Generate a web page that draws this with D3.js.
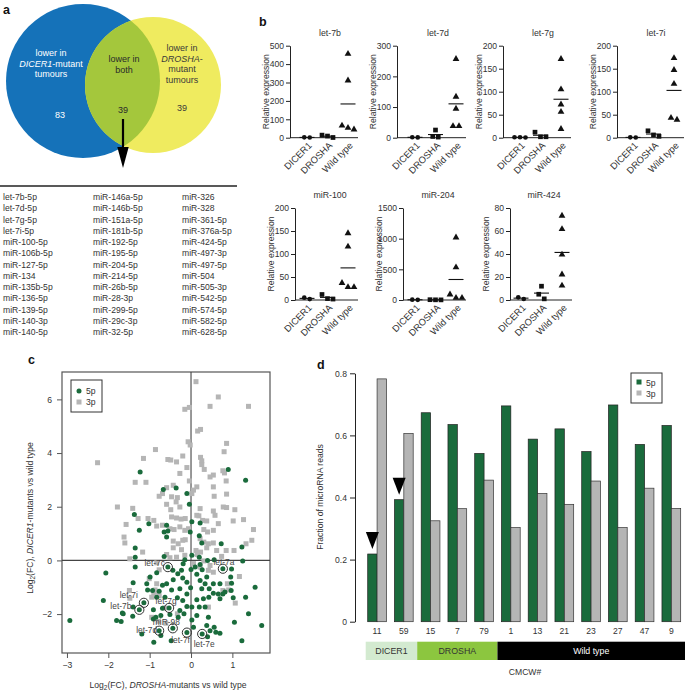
<!DOCTYPE html>
<html><head><meta charset="utf-8">
<script src="https://cdn.jsdelivr.net/npm/d3@7"></script>
<style>
html,body{margin:0;padding:0;background:#fff;}
svg{display:block;}
text{font-family:"Liberation Sans",Arial,Helvetica,sans-serif;}
</style></head>
<body>
<svg id="fig" width="685" height="692"></svg>
<script>
// ================= DATA =================
// Panel a
const vennCounts = [83, 39, 39];            // DICER1 only, both, DROSHA only
const vennText = [
  ["lower in", "*DICER1*-mutant", "tumours"],
  ["lower in", "both"],
  ["lower in", "*DROSHA*-", "mutant", "tumours"]
];
const sharedMiRNAs = [
  "let-7b-5p","let-7d-5p","let-7g-5p","let-7i-5p","miR-100-5p","miR-106b-5p","miR-127-5p","miR-134","miR-135b-5p","miR-136-5p","miR-139-5p","miR-140-3p","miR-140-5p",
  "miR-146a-5p","miR-146b-5p","miR-151a-5p","miR-181b-5p","miR-192-5p","miR-195-5p","miR-204-5p","miR-214-5p","miR-26b-5p","miR-28-3p","miR-299-5p","miR-29c-3p","miR-32-5p",
  "miR-326","miR-328","miR-361-5p","miR-376a-5p","miR-424-5p","miR-497-3p","miR-497-5p","miR-504","miR-505-3p","miR-542-5p","miR-574-5p","miR-582-5p","miR-628-5p"
];

// Panel b
const bTitles = ["let-7b","let-7d","let-7g","let-7i","miR-100","miR-204","miR-424"];
const bGroups = ["DICER1","DROSHA","Wild type"];
const bTicks = [[0,100,200,300,400,500],[0,100,200,300],[0,50,100,150,200],[0,50,100,150,200],
                [0,50,100,150,200],[0,500,1000,1500],[0,20,40,60,80]];
const bDicer  = [[1,2],[1,1.5],[1,0.5,1],[0.5,0.8],[2,5],[3,6],[0.9,2.3]];
const bDrosha = [[14,1,9],[25,2,4],[12,2,2],[15,3,6],[12,2,3],[2,3,5],[12,5,1]];
const bWild   = [[453,308,63,42,51],[255,132,93,36,36],[170,104,71,55,18],[172,146,116,38,42],
                 [144,115,36,27,27],[1012,525,81,27,27],[72.8,61.2,39,21.7,12.1]];

// Panel c  (log2 FC DROSHA-mut vs WT, log2 FC DICER1-mut vs WT)
const c3p = [[-2.26,3.64],[-0.86,4.13],[-1.15,3.80],[-1.35,2.91],[-1.09,2.91],[-1.78,1.99],[-1.41,1.94],[-1.57,1.34],[-1.62,0.87],[-1.60,0.65],[-1.48,0.06],[-1.17,0.31],[-1.28,1.56],[-1.04,1.56],[-0.90,1.49],[-0.83,1.28],[-0.69,1.31],[-0.77,2.39],[-0.69,2.49],[-0.59,2.71],[-0.56,3.76],[-0.49,3.74],[-0.35,3.67],[-0.20,3.89],[-0.27,3.24],[-0.10,3.46],[-0.04,2.96],[-0.43,2.80],[-0.47,2.37],[-0.33,2.34],[-0.36,2.18],[-0.59,2.09],[-0.49,1.89],[-0.27,1.99],[-0.47,1.62],[-0.35,1.58],[-0.24,1.54],[-0.14,1.56],[-0.51,1.18],[-0.41,1.15],[-0.27,1.25],[-0.15,1.12],[-0.06,1.18],[-0.20,0.75],[-0.14,0.77],[-0.43,0.72],[-0.31,0.62],[-0.43,0.47],[-0.23,0.40],[-0.59,0.22],[-0.51,0.10],[-0.35,0.12],[-0.83,-0.09],[-0.77,-0.35],[-1.01,-0.68],[-0.83,-0.87],[-0.87,-1.10],[-0.83,-1.17],[-0.95,-1.37],[-0.90,-1.25],[-1.49,-1.12],[-1.48,-1.41],[-0.77,-1.32],[-0.63,-1.77],[-0.33,-1.99],[-0.95,-2.12],[-0.79,-2.27],[-0.61,-2.34],
  [0.12,6.66],[0.66,6.09],[0.46,5.74],[1.39,5.74],[-0.15,5.63],[-0.04,5.70],[0.16,4.82],[0.23,4.88],[-0.07,4.42],[-0.02,4.30],
  [0.02,2.49],[0.06,2.62],[0.14,2.74],[0.22,1.93],[0.19,1.66],[0.14,1.68],[0.28,1.49],[0.38,1.47],[0.23,3.84],[0.26,3.71],[0.26,3.57],[0.32,3.39],[0.46,3.11],[0.54,3.18],[0.56,2.39],[0.77,3.34],[0.85,2.96],[0.81,3.26],[0.86,2.47],[0.80,4.05],[0.86,4.36],[0.54,2.74],[0.78,1.99],[0.86,1.97],[0.54,1.84],[1.06,1.89],[1.02,1.47],[1.27,1.52],[1.51,1.15],[1.47,0.75],[1.33,0.62],[0.58,1.68],[0.66,1.37],[0.31,1.15],[0.54,1.12],[0.40,1.06],[0.22,0.81],[0.31,0.68],[0.42,0.62],[0.54,0.65],[0.38,0.47],[0.12,0.37],[0.23,0.31],[0.15,0.22],[0.62,0.37],[0.74,0.15],[0.85,0.37],[1.04,0.37],[0.31,-0.02],[0.46,-0.19],[0.22,-0.25],[0.42,-0.37],[0.54,-0.44],[1.17,-0.60],[0.88,-0.87],[0.77,-1.12],[0.91,-1.10],[1.07,-1.59],[0.42,-1.74],[0.06,-0.12],[-0.15,0.19]];
const c5p = [[-2.93,-2.24],[-2.06,-0.47],[-2.12,-1.49],[-1.80,-2.24],[-1.69,-2.28],[-1.66,-1.96],[-1.40,-1.74],[-1.40,-0.83],[-1.35,-0.25],[-1.35,0.46],[-1.35,0.12],[-1.23,3.29],[-1.37,1.71],[-1.25,1.12],[-1.02,1.37],[-0.67,2.64],[-0.36,2.70],[-0.65,1.06],[-0.59,0.87],[-0.56,1.10],[-0.59,1.31],[-0.65,0.15],[-0.10,2.49],[-0.04,2.09],[0.02,1.44],[0.22,1.39],[-0.02,1.06],[0.20,0.92],[0.26,0.65],[0.73,0.62],[0.90,3.39],[1.32,2.99],[1.23,0.50],[1.25,-0.02],[-0.99,-0.62],[-0.83,-0.46],[-1.07,-0.87],[-1.05,-1.10],[-1.19,-2.74],[-0.91,-1.84],[-0.91,-2.18],[-0.85,-2.12],[-0.69,-1.78],[-0.73,-2.80],[-0.73,-2.05],[-0.90,-3.05],[-0.48,-2.99],[-0.10,-0.81],[-0.01,-1.02],[-0.10,-1.25],[-0.20,-1.49],[-0.33,-1.39],[-0.47,-1.10],[-0.59,-0.87],[-0.43,-0.72],[-0.32,-0.50],[-0.44,-0.37],[-0.23,-0.37],[-0.20,-0.66],[-0.69,-0.93],[-0.77,-1.15],[-0.63,-1.37],[-0.51,-2.02],[-0.31,-2.12],[-0.27,-1.87],[-0.17,-1.99],[-0.10,-1.72],[0.02,-1.74],[0.14,-2.05],[0.20,-1.74],[0.34,-1.74],[0.42,-2.12],[0.38,-2.43],[0.46,-2.62],[0.56,-2.49],[0.60,-2.68],[0.70,-2.71],[0.40,-2.84],[0.06,-2.49],[0.02,-2.22],[0.14,-1.47],[0.30,-1.43],[0.43,-1.37],[0.54,-1.22],[0.66,-1.25],[0.70,-1.43],[0.77,-1.25],[0.97,-1.12],[0.26,-1.06],[0.34,-0.87],[0.44,-1.06],[0.54,-0.87],[0.22,-0.75],[0.14,-0.52],[0.38,-0.62],[0.27,-0.35],[0.10,-0.25],[0.00,-0.34],[0.22,-0.15],[0.20,0.12],[0.40,0.00],[0.56,0.02],[0.98,-0.32],[0.96,-0.62],[0.98,-0.85],[1.02,-1.39],[1.05,-2.30],[1.32,-1.37],[1.39,-1.99],[1.55,-1.00],[1.71,-2.43],[1.23,-2.99],[0.70,-0.87],[0.82,-1.18],[-0.19,-0.12],[-0.15,0.02],[-0.83,-1.37],[-0.93,-1.12],[-0.27,-1.06],[0.02,0.19],[-1.64,-1.99],[-1.41,-2.08]];
const cLabelNames = ["let-7c","let-7a","let-7i","let-7b","let-7g","miR-98","let-7d","let-7f","let-7e"];
const cLabelX = [-0.56, 0.77, -1.14, -1.25, -0.53, -0.44, -0.77, -0.10, 0.27];
const cLabelY = [-0.25, -0.31, -1.58, -1.84, -1.77, -2.53, -2.62, -2.69, -2.74];
const cXTicks = [-3,-2,-1,0,1];
const cYTicks = [-2,0,2,4,6];

// Panel d
const dSamples = ["11","59","15","7","79","1","13","21","23","27","47","9"];
const dType    = ["DICER1","DICER1","DROSHA","DROSHA","DROSHA","Wild type","Wild type","Wild type","Wild type","Wild type","Wild type","Wild type"];
const d5p = [0.218,0.393,0.673,0.635,0.542,0.695,0.588,0.621,0.548,0.698,0.571,0.632];
const d3p = [0.782,0.606,0.325,0.364,0.456,0.303,0.413,0.378,0.453,0.303,0.430,0.365];
const dMarked = ["11","59"];
const dTicks = [0,0.2,0.4,0.6,0.8];
const dTypeNames = ["DICER1","DROSHA","Wild type"];

// ================= DRAWING =================
const svg = d3.select("#fig");
const TXT = "#333";
const GREEN = "#1a6b3c", GREY = "#b5b5b5";

function rich(textSel, str) {
  const parts = str.split("*");
  parts.forEach((p, i) => { if (p) textSel.append("tspan").attr("font-style", i % 2 ? "italic" : null).text(p); });
}
function letter(t, x, y) {
  svg.append("text").attr("x", x).attr("y", y).attr("font-size", 12.5).attr("font-weight", "bold").attr("fill", "#111").text(t);
}

// ---------- Panel a ----------
(function(){
  const g = svg.append("g");
  const blue = {cx:83, cy:81, r:77}, yel = {cx:153, cy:85, r:68};
  svg.append("defs").append("clipPath").attr("id","clipBlue")
    .append("circle").attr("cx",blue.cx).attr("cy",blue.cy).attr("r",blue.r);
  g.append("circle").attr("cx",blue.cx).attr("cy",blue.cy).attr("r",blue.r).attr("fill","#1572b9");
  g.append("circle").attr("cx",yel.cx).attr("cy",yel.cy).attr("r",yel.r).attr("fill","#efeb5f");
  g.append("circle").attr("cx",yel.cx).attr("cy",yel.cy).attr("r",yel.r).attr("fill","#a4c73c").attr("clip-path","url(#clipBlue)");

  const cfg = [{x:51, y0:56, fill:"#fff"}, {x:124, y0:62, fill:"#2a2a2a"}, {x:182, y0:51, fill:"#3a3a3a"}];
  const countPos = [[60,118],[123,113],[182,111]];
  vennText.forEach((lines, i) => {
    lines.forEach((ln, j) => {
      const t = g.append("text").attr("x", cfg[i].x).attr("y", cfg[i].y0 + j*10.6)
        .attr("text-anchor","middle").attr("font-size",9).attr("fill",cfg[i].fill);
      rich(t, ln);
    });
    g.append("text").attr("x", countPos[i][0]).attr("y", countPos[i][1]).attr("text-anchor","middle")
      .attr("font-size",9).attr("fill",cfg[i].fill).text(vennCounts[i]);
  });
  g.append("line").attr("x1",123).attr("y1",119).attr("x2",123).attr("y2",150).attr("stroke","#000").attr("stroke-width",2.2);
  g.append("path").attr("d","M117.3,147 L128.7,147 L123,168 Z").attr("fill","#000");
  g.append("line").attr("x1",0).attr("x2",237).attr("y1",186).attr("y2",186).attr("stroke","#222").attr("stroke-width",1.4);
  const colX = [3, 93, 182];
  sharedMiRNAs.forEach((m, i) => {
    const c = Math.floor(i / 13), r = i % 13;
    g.append("text").attr("x", colX[c]).attr("y", 200 + r*11.25).attr("font-size",8.6).attr("fill",TXT).text(m);
  });
  letter("a", 3, 14);
})();

// ---------- Panel b ----------
(function(){
  const axisX = [290,397,503,617,295,403,510];
  const mid   = [328,436,541,654,328,436,542];
  const rows  = [[137.7,45.7],[300,208]];
  const titleY = [36, 198];
  bTitles.forEach((title, i) => {
    const row = i < 4 ? 0 : 1;
    const [yb, yt] = rows[row];
    const ticks = bTicks[i];
    const y = d3.scaleLinear().domain([0, ticks[ticks.length-1]]).range([yb, yt]);
    const x = d3.scalePoint().domain(bGroups).range([mid[i]-21, mid[i]+20]);
    const g = svg.append("g");
    const ax = g.append("g").attr("transform",`translate(${axisX[i]},0)`)
      .call(d3.axisLeft(y).tickValues(ticks).tickSize(4).tickSizeOuter(0).tickPadding(2).tickFormat(d3.format("d")));
    ax.selectAll("text").attr("font-size",8.6).attr("fill",TXT).style("font-family",'"Liberation Sans",Arial,sans-serif');
    ax.selectAll("line,path").attr("stroke","#222");
    g.append("line").attr("x1",axisX[i]).attr("x2",mid[i]+30).attr("y1",yb).attr("y2",yb).attr("stroke","#222");
    g.append("text").attr("x",mid[i]+2).attr("y",titleY[row]).attr("text-anchor","middle").attr("font-size",8.8).attr("fill",TXT).text(title);
    g.append("text").attr("transform",`translate(${axisX[i]-21},${(yb+yt)/2}) rotate(-90)`)
      .attr("text-anchor","middle").attr("font-size",8.6).attr("fill",TXT).text("Relative expression");
    bGroups.forEach(grp => {
      g.append("text").attr("transform",`translate(${x(grp)+3},${yb+6}) rotate(-45)`)
        .attr("text-anchor","end").attr("dy","0.35em").attr("font-size",9.4).attr("fill",TXT).text(grp);
    });
    const sets = [[bDicer[i], d3.symbolCircle, 17, 5.5],[bDrosha[i], d3.symbolSquare, 22, 5.5],[bWild[i], d3.symbolTriangle, 20, 6]];
    sets.forEach(([vals, sym, size, sp], k) => {
      const cx = x(bGroups[k]);
      const items = vals.map(v => ({v, py: y(v)})).sort((a,b) => a.py - b.py);
      const clusters = [];
      items.forEach(it => {
        const last = clusters[clusters.length-1];
        if (last && it.py - last[last.length-1].py < 5) last.push(it); else clusters.push([it]);
      });
      clusters.forEach(cl => cl.forEach((it, j) => it.px = cx + (j - (cl.length-1)/2) * sp));
      g.selectAll(null).data(items).enter().append("path")
        .attr("d", d3.symbol().type(sym).size(size))
        .attr("transform", d => `translate(${d.px},${d.py - (sym===d3.symbolTriangle?0.5:0)})`)
        .attr("fill","#111");
      const m = d3.mean(vals);
      g.append("line").attr("x1",cx-7.5).attr("x2",cx+7.5).attr("y1",y(m)).attr("y2",y(m)).attr("stroke","#111").attr("stroke-width",1.1);
    });
  });
  letter("b", 259, 26);
})();

// ---------- Panel c ----------
(function(){
  const x = d3.scaleLinear().domain([-3.12, 1.91]).range([62, 270]);
  const y = d3.scaleLinear().domain([-3.45, 7.02]).range([653, 372]);
  const g = svg.append("g");
  g.append("rect").attr("x",62).attr("y",372).attr("width",208).attr("height",281).attr("fill","none").attr("stroke","#555").attr("stroke-width",1.2);
  g.append("line").attr("x1",62).attr("x2",270).attr("y1",y(0)).attr("y2",y(0)).attr("stroke","#444").attr("stroke-width",1.1);
  g.append("line").attr("x1",x(0)).attr("x2",x(0)).attr("y1",372).attr("y2",653).attr("stroke","#444").attr("stroke-width",1.1);
  const ax = g.append("g").attr("transform","translate(0,653)").call(d3.axisBottom(x).tickValues(cXTicks).tickSize(5).tickPadding(4).tickFormat(d3.format("d")));
  const ay = g.append("g").attr("transform","translate(62,0)").call(d3.axisLeft(y).tickValues(cYTicks).tickSize(5).tickPadding(5).tickFormat(d3.format("d")));
  [ax, ay].forEach(a => {
    a.select(".domain").remove();
    a.selectAll("line").attr("stroke","#555");
    a.selectAll("text").attr("font-size",8.6).attr("fill",TXT).style("font-family",'"Liberation Sans",Arial,sans-serif');
  });
  g.selectAll(null).data(c3p).enter().append("rect")
    .attr("x", d => x(d[0]) - 2.5).attr("y", d => y(d[1]) - 2.5).attr("width",5).attr("height",5).attr("fill",GREY);
  g.selectAll(null).data(c5p).enter().append("circle")
    .attr("cx", d => x(d[0])).attr("cy", d => y(d[1])).attr("r",2.5).attr("fill",GREEN);
  const off = {"let-7c":[-3,-1,"end"],"let-7a":[1,-4,"middle"],"let-7i":[-6,-5,"end"],"let-7b":[-8,-1,"end"],
               "let-7g":[-3,-4,"middle"],"miR-98":[7,-3,"end"],"let-7d":[-2,2,"end"],"let-7f":[3,10,"end"],"let-7e":[2,13,"middle"]};
  cLabelNames.forEach((n, i) => {
    const px = x(cLabelX[i]), py = y(cLabelY[i]);
    g.append("circle").attr("cx",px).attr("cy",py).attr("r",2.5).attr("fill",GREEN);
    g.append("circle").attr("cx",px).attr("cy",py).attr("r",4.6).attr("fill","none").attr("stroke","#333").attr("stroke-width",1);
  });
  cLabelNames.forEach((n, i) => {
    const px = x(cLabelX[i]), py = y(cLabelY[i]);
    const o = off[n];
    g.append("text").attr("x",px+o[0]).attr("y",py+o[1]).attr("text-anchor",o[2]).attr("font-size",8.4).attr("fill","#444").text(n);
  });
  g.append("rect").attr("x",71).attr("y",380).attr("width",31).attr("height",32).attr("fill","#fff").attr("stroke","#333").attr("stroke-width",1);
  g.append("circle").attr("cx",79).attr("cy",391).attr("r",2.5).attr("fill",GREEN);
  g.append("rect").attr("x",76.5).attr("y",399.5).attr("width",5).attr("height",5).attr("fill",GREY);
  g.append("text").attr("x",86).attr("y",394).attr("font-size",8.6).attr("fill",TXT).text("5p");
  g.append("text").attr("x",86).attr("y",405).attr("font-size",8.6).attr("fill",TXT).text("3p");
  const yl = g.append("text").attr("transform",`translate(33,518) rotate(-90)`).attr("text-anchor","middle").attr("font-size",8.6).attr("fill",TXT);
  yl.append("tspan").text("Log");
  yl.append("tspan").attr("font-size",6.5).attr("dy",2).text("2");
  yl.append("tspan").attr("dy",-2).text("(FC), ");
  yl.append("tspan").attr("font-style","italic").text("DICER1");
  yl.append("tspan").text("-mutants vs wild type");
  const xl = g.append("text").attr("x",168).attr("y",688).attr("text-anchor","middle").attr("font-size",8.6).attr("fill",TXT);
  xl.append("tspan").text("Log");
  xl.append("tspan").attr("font-size",6.5).attr("dy",2).text("2");
  xl.append("tspan").attr("dy",-2).text("(FC), ");
  xl.append("tspan").attr("font-style","italic").text("DROSHA");
  xl.append("tspan").text("-mutants vs wild type");
  letter("c", 28, 364);
})();

// ---------- Panel d ----------
(function(){
  const g = svg.append("g");
  const x = d3.scaleBand().domain(dSamples).range([363.7, 684.7]).paddingInner(0.3).paddingOuter(0.15);
  const y = d3.scaleLinear().domain([0, 0.8]).range([621.7, 373.3]);
  const bw = x.bandwidth() / 2;
  const ay = g.append("g").attr("transform","translate(355,0)").call(d3.axisLeft(y).tickValues(dTicks).tickSize(5).tickSizeOuter(0).tickPadding(3).tickFormat(d => d === 0 ? "0" : d3.format(".1f")(d)));
  ay.selectAll("line,path").attr("stroke","#222");
  ay.selectAll("text").attr("font-size",8.6).attr("fill",TXT).style("font-family",'"Liberation Sans",Arial,sans-serif');
  g.selectAll(null).data(dSamples).enter().append("rect")
    .attr("x", d => x(d)).attr("y", (d,i) => y(d5p[i])).attr("width", bw).attr("height", (d,i) => y(0) - y(d5p[i]))
    .attr("fill", GREEN).attr("stroke","#222").attr("stroke-width",0.7);
  g.selectAll(null).data(dSamples).enter().append("rect")
    .attr("x", d => x(d) + bw).attr("y", (d,i) => y(d3p[i])).attr("width", bw).attr("height", (d,i) => y(0) - y(d3p[i]))
    .attr("fill", GREY).attr("stroke","#333").attr("stroke-width",0.7);
  dMarked.forEach(s => {
    const i = dSamples.indexOf(s);
    const cx = x(s) + bw/2, tip = y(d5p[i]) - 5;
    g.append("path").attr("d", `M${cx-6.5},${tip-17} L${cx+6.5},${tip-17} L${cx},${tip} Z`).attr("fill","#000");
  });
  dSamples.forEach(s => {
    g.append("text").attr("x", x(s) + x.bandwidth()/2).attr("y", 634).attr("text-anchor","middle").attr("font-size",8.6).attr("fill",TXT).text(s);
  });
  const stripFill = {"DICER1":"#d3ead0","DROSHA":"#8cc63f","Wild type":"#000"};
  const stripText = {"DICER1":"#333","DROSHA":"#333","Wild type":"#fff"};
  const gap = x.step() * x.paddingInner();
  dTypeNames.forEach((t, k) => {
    const members = dSamples.filter((s, i) => dType[i] === t);
    const first = members[0], last = members[members.length-1];
    const x0 = k === 0 ? x(first) - 2 : x(first) - gap/2;
    const x1 = k === dTypeNames.length-1 ? 685 : x(last) + x.bandwidth() + gap/2;
    g.append("rect").attr("x", x0).attr("y", 641.7).attr("width", x1 - x0).attr("height", 18.3).attr("fill", stripFill[t]);
    g.append("text").attr("x", (x0+x1)/2).attr("y", 654).attr("text-anchor","middle").attr("font-size",8.8).attr("fill",stripText[t]).text(t);
  });
  g.append("text").attr("x",525).attr("y",675).attr("text-anchor","middle").attr("font-size",8.6).attr("fill",TXT).text("CMCW#");
  g.append("text").attr("transform","translate(323,497) rotate(-90)").attr("text-anchor","middle").attr("font-size",8.6).attr("fill",TXT).text("Fraction of microRNA reads");
  g.append("rect").attr("x",631).attr("y",373).attr("width",31).attr("height",30).attr("fill","#fff").attr("stroke","#333").attr("stroke-width",1);
  g.append("rect").attr("x",636.5).attr("y",379.5).attr("width",5).attr("height",5).attr("fill",GREEN);
  g.append("rect").attr("x",636.5).attr("y",390.5).attr("width",5).attr("height",5).attr("fill",GREY);
  g.append("text").attr("x",646).attr("y",385.5).attr("font-size",8.6).attr("fill",TXT).text("5p");
  g.append("text").attr("x",646).attr("y",396.5).attr("font-size",8.6).attr("fill",TXT).text("3p");
  letter("d", 317, 369);
})();
</script>
</body></html>
